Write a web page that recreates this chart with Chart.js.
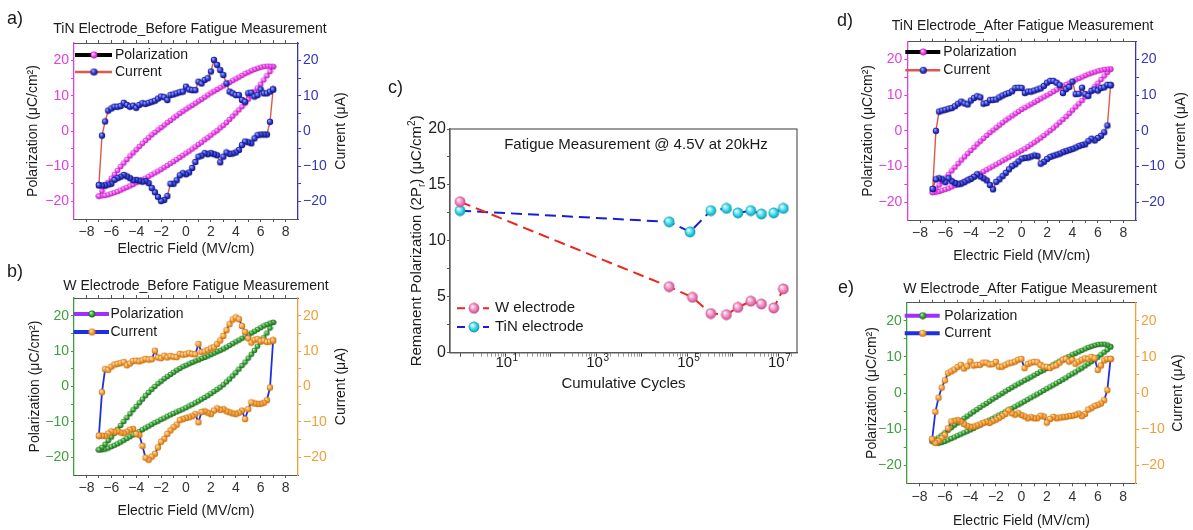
<!DOCTYPE html>
<html><head><meta charset="utf-8">
<script src="https://cdn.jsdelivr.net/npm/chart.js@4.4.1/dist/chart.umd.min.js"></script>
<style>
html,body{margin:0;padding:0;background:#fff;}
body{width:1193px;height:530px;position:relative;overflow:hidden;}
canvas{position:absolute;}
</style></head><body>
<canvas id="cA" width="360" height="265" style="left:0px;top:0px"></canvas>
<canvas id="cB" width="360" height="275" style="left:0px;top:255px"></canvas>
<canvas id="cC" width="430" height="320" style="left:380px;top:75px"></canvas>
<canvas id="cD" width="363" height="265" style="left:830px;top:0px"></canvas>
<canvas id="cE" width="363" height="265" style="left:830px;top:265px"></canvas>
<script>
const FONT = "'Liberation Sans', Arial, Helvetica, sans-serif";

// ---------- Electric-field sweep (MV/cm), shared by panels a, b, d, e ----------
const E_GRID = [-7,-6.75,-6.5,-6.25,-6,-5.75,-5.5,-5.25,-5,-4.75,-4.5,-4.25,-4,-3.75,-3.5,-3.25,-3,-2.75,-2.5,-2.25,-2,-1.75,-1.5,-1.25,-1,-0.75,-0.5,-0.25,0,0.25,0.5,0.75,1,1.25,1.5,1.75,2,2.25,2.5,2.75,3,3.25,3.5,3.75,4,4.25,4.5,4.75,5,5.25,5.5,5.75,6,6.25,6.5,6.75,7];
const E_TICKS = [-8,-6,-4,-2,0,2,4,6,8];
const E_TICK_LABELS = ['\u22128','\u22126','\u22124','\u22122','0','2','4','6','8'];
const E_MINOR = [-7,-5,-3,-1,1,3,5,7];
const Y_TICKS = [-20,-10,0,10,20];
const Y_TICK_LABELS = ['\u221220','\u221210','0','10','20'];
const Y_MINOR = [-15,-5,5,15];

// ---------- Panel a: TiN before fatigue ----------
const A_P_UP = [-18.5,-18.4,-18.3,-18.1,-17.8,-17.5,-17.2,-16.8,-16.4,-16.0,-15.6,-15.2,-14.7,-14.3,-13.8,-13.4,-12.9,-12.4,-11.9,-11.4,-10.9,-10.3,-9.8,-9.2,-8.7,-8.1,-7.5,-6.9,-6.3,-5.7,-5.1,-4.5,-3.8,-3.2,-2.5,-1.9,-1.2,-0.5,0.1,0.9,1.6,2.4,3.3,4.2,5.1,6.0,6.9,7.9,9.0,10.0,11.1,12.2,13.3,14.5,15.7,16.9,18.2];
const A_P_DOWN = [18.3,18.4,18.4,18.3,18.1,17.8,17.5,17.1,16.7,16.3,15.8,15.3,14.8,14.3,13.8,13.3,12.8,12.3,11.8,11.3,10.8,10.2,9.6,9.0,8.5,7.9,7.3,6.8,6.2,5.6,5.0,4.3,3.7,3.0,2.4,1.7,1.0,0.3,-0.4,-1.1,-1.9,-2.7,-3.5,-4.4,-5.3,-6.2,-7.1,-8.1,-9.1,-10.1,-11.2,-12.3,-13.4,-14.6,-15.8,-17.0,-18.5];
const A_I_UP = [-15.4,-1.3,2.7,5.8,6.4,6.9,6.9,7.1,8.0,7.4,6.9,7.2,6.6,7.4,7.9,7.7,8.0,8.3,8.6,9.2,9.8,9.6,8.8,10.2,10.4,10.7,11.0,11.2,12.6,11.8,11.6,11.6,14.0,13.5,14.5,15.0,16.9,20.2,18.8,17.3,15.9,13.5,11.2,10.7,10.2,10.2,8.8,8.3,10.7,10.9,9.8,10.2,11.8,10.7,10.7,11.2,11.8];
const A_I_DOWN = [11.8,2.6,-1.0,-1.0,-1.0,-1.2,-2.1,-3.5,-3.2,-3.0,-4.0,-5.4,-6.1,-6.4,-6.5,-6.1,-7.3,-8.9,-6.9,-6.6,-6.3,-6.6,-6.3,-7.0,-7.3,-8.8,-10.5,-11.8,-12.3,-12.0,-12.6,-14.0,-15.0,-15.0,-18.5,-19.6,-19.9,-18.7,-17.4,-16.2,-14.8,-14.2,-14.4,-14.1,-13.9,-14.0,-13.4,-12.9,-12.5,-13.0,-13.4,-13.9,-15.0,-15.2,-15.4,-15.5,-15.4];

// ---------- Panel b: W before fatigue ----------
const B_P_UP = [-17.9,-17.9,-17.7,-17.4,-17.0,-16.6,-16.2,-15.7,-15.2,-14.7,-14.2,-13.7,-13.2,-12.7,-12.2,-11.7,-11.2,-10.7,-10.2,-9.8,-9.3,-8.9,-8.4,-8.0,-7.6,-7.2,-6.8,-6.4,-6.0,-5.5,-5.1,-4.6,-4.1,-3.6,-3.1,-2.6,-2.0,-1.4,-0.8,-0.2,0.5,1.3,2.1,3.0,3.9,4.9,5.9,6.9,8.0,9.1,10.2,11.4,12.6,13.8,15.1,16.5,18.1];
const B_P_DOWN = [18.1,17.9,17.5,17.1,16.6,16.1,15.6,15.1,14.6,14.1,13.6,13.1,12.6,12.1,11.6,11.1,10.6,10.2,9.8,9.4,9.0,8.6,8.2,7.9,7.5,7.2,6.8,6.4,6.0,5.6,5.1,4.6,4.0,3.4,2.8,2.2,1.5,0.8,0.0,-0.8,-1.7,-2.6,-3.6,-4.6,-5.6,-6.6,-7.7,-8.8,-9.9,-11.0,-12.1,-13.2,-14.3,-15.3,-16.3,-17.2,-17.9];
const B_I_UP = [-13.9,-1.6,4.9,4.7,5.6,6.2,6.4,6.6,6.9,6.0,6.5,7.2,7.3,7.1,7.4,7.8,7.6,7.7,10.1,8.2,8.0,8.7,8.2,8.6,8.4,8.3,9.2,9.0,9.1,9.4,9.2,9.1,12.0,9.7,9.9,10.3,10.8,11.1,12.0,13.0,14.3,15.9,17.6,18.9,19.5,19.0,17.1,15.4,13.6,12.4,13.2,13.4,12.8,13.0,12.6,12.7,13.0];
const B_I_DOWN = [13.0,-0.3,-3.9,-4.6,-4.9,-4.9,-4.8,-4.5,-6.4,-9.2,-6.8,-7.4,-7.8,-7.6,-7.3,-7.0,-6.4,-6.6,-6.2,-6.8,-7.8,-7.4,-7.0,-7.2,-10.1,-7.8,-8.4,-8.7,-8.9,-9.2,-9.5,-10.8,-11.5,-12.4,-13.4,-14.8,-15.6,-17.2,-19.0,-19.8,-20.7,-20.1,-16.8,-13.7,-13.4,-12.0,-12.2,-12.8,-13.2,-13.0,-12.6,-12.9,-12.7,-13.3,-14.0,-13.9,-13.9];

// ---------- Panel d: TiN after fatigue ----------
const D_P_UP = [-17.3,-17.2,-17.0,-16.7,-16.4,-16.1,-15.7,-15.3,-14.9,-14.5,-14.1,-13.7,-13.2,-12.8,-12.3,-11.9,-11.4,-10.9,-10.4,-9.9,-9.4,-8.9,-8.4,-7.9,-7.4,-6.9,-6.5,-6.0,-5.5,-5.0,-4.4,-3.8,-3.2,-2.6,-2.0,-1.3,-0.6,0.1,0.8,1.6,2.4,3.2,4.0,4.9,5.8,6.7,7.6,8.5,9.5,10.4,11.4,12.4,13.4,14.4,15.4,16.4,17.3];
const D_P_DOWN = [17.3,17.3,17.2,17.0,16.8,16.5,16.2,15.9,15.5,15.1,14.7,14.3,13.9,13.4,13.0,12.5,12.0,11.5,11.0,10.5,10.0,9.5,9.0,8.5,8.0,7.5,7.0,6.5,6.0,5.4,4.8,4.2,3.6,3.0,2.3,1.6,0.9,0.2,-0.5,-1.3,-2.1,-2.9,-3.7,-4.6,-5.5,-6.4,-7.3,-8.2,-9.2,-10.2,-11.2,-12.2,-13.2,-14.2,-15.2,-16.3,-17.3];
const D_I_UP = [-16.3,0.0,5.4,5.7,5.9,6.2,6.4,6.9,7.6,8.2,7.7,7.4,8.5,9.2,9.7,9.4,7.6,7.8,8.6,8.7,8.8,9.4,9.9,10.3,10.6,11.1,12.0,12.1,12.0,10.6,11.0,11.0,11.3,11.6,11.9,12.6,13.5,14.0,14.0,13.5,12.8,10.6,11.7,12.3,13.8,10.3,10.4,12.1,10.3,9.8,11.2,11.6,11.3,12.0,12.2,12.9,12.8];
const D_I_DOWN = [12.8,1.5,-0.4,-1.4,-2.0,-2.7,-2.2,-2.9,-3.8,-4.0,-4.3,-4.7,-5.1,-5.4,-5.7,-6.0,-6.4,-6.7,-7.0,-7.3,-7.9,-8.7,-9.2,-7.1,-6.9,-7.2,-7.5,-7.6,-7.8,-8.6,-9.4,-9.9,-10.8,-11.8,-12.7,-13.6,-14.3,-16.4,-15.2,-13.9,-13.3,-12.8,-12.2,-12.9,-13.5,-13.9,-14.4,-14.8,-15.0,-14.6,-14.1,-13.3,-14.4,-13.6,-13.3,-13.6,-16.3];

// ---------- Panel e: W after fatigue ----------
const E_P_UP = [-13.3,-13.7,-13.9,-13.7,-13.4,-13.0,-12.6,-12.2,-11.8,-11.4,-11.0,-10.6,-10.2,-9.8,-9.3,-8.9,-8.4,-8.0,-7.5,-7.1,-6.6,-6.1,-5.7,-5.2,-4.7,-4.3,-3.8,-3.3,-2.8,-2.3,-1.8,-1.3,-0.8,-0.3,0.2,0.7,1.2,1.7,2.2,2.7,3.2,3.7,4.2,4.8,5.3,5.8,6.4,6.9,7.5,8.1,8.7,9.3,9.9,10.6,11.3,12.0,12.8];
const E_P_DOWN = [12.8,13.3,13.5,13.5,13.4,13.2,12.9,12.6,12.2,11.8,11.4,11.0,10.6,10.1,9.7,9.2,8.8,8.3,7.8,7.3,6.8,6.3,5.9,5.4,4.9,4.4,3.9,3.5,3.0,2.5,2.0,1.5,1.0,0.5,-0.1,-0.6,-1.2,-1.7,-2.3,-2.9,-3.4,-4.0,-4.6,-5.2,-5.8,-6.4,-7.0,-7.6,-8.3,-8.9,-9.6,-10.3,-11.0,-11.7,-12.4,-13.0,-13.3];
const E_I_UP = [-12.8,-5.2,-1.3,1.5,3.5,5.5,6.0,6.5,7.2,7.8,6.8,7.4,8.7,7.6,7.8,7.8,8.4,8.4,7.9,8.0,8.6,7.3,7.3,7.8,8.2,8.4,8.7,9.2,9.4,6.9,8.0,8.4,8.6,8.5,7.8,7.3,7.2,6.9,7.4,7.7,8.4,9.2,9.4,8.7,9.2,8.1,8.7,9.2,9.6,9.4,10.0,9.6,6.4,7.6,9.0,9.4,9.4];
const E_I_DOWN = [9.4,0.8,-2.0,-2.9,-3.3,-3.6,-4.2,-4.6,-5.8,-6.4,-5.7,-6.1,-6.3,-6.4,-6.6,-6.7,-6.8,-7.0,-6.6,-7.2,-8.2,-6.5,-6.3,-7.0,-7.0,-6.7,-7.0,-6.5,-6.1,-5.6,-6.0,-5.6,-4.8,-5.8,-6.4,-6.9,-7.4,-7.8,-8.3,-8.0,-8.3,-8.7,-9.0,-9.3,-9.4,-9.1,-8.6,-7.9,-7.5,-7.7,-7.9,-9.8,-11.6,-12.5,-13.3,-13.8,-12.8];

// ---------- Panel c: fatigue ----------
const W_CYCLES = [1, 4e4, 1.3e5, 3.3e5, 7.3e5, 1.3e6, 2.5e6, 4.3e6, 8e6, 1.3e7];
const W_2PR = [13.5, 5.9, 4.95, 3.5, 3.4, 4.05, 4.6, 4.35, 4.0, 5.7];
const TIN_CYCLES = [1, 4e4, 1.15e5, 3.3e5, 7.3e5, 1.3e6, 2.5e6, 4.3e6, 8e6, 1.3e7];
const TIN_2PR = [12.7, 11.7, 10.8, 12.7, 12.9, 12.5, 12.7, 12.4, 12.5, 12.9];
const C_DECADES = [1, 10, 100, 1e3, 1e4, 1e5, 1e6, 1e7];
const C_MAJOR = [10, 1e3, 1e5, 1e7];
const C_MAJOR_EXP = ['1', '3', '5', '7'];
const C_YTICKS = [0, 5, 10, 15, 20];
const C_YMINOR = [2.5, 7.5, 12.5, 17.5];

Chart.defaults.font.family = FONT;

function sphere(r, light, base, dark) {
  const s = Math.ceil(2 * r + 1);
  const c = document.createElement('canvas');
  c.width = s; c.height = s;
  const g = c.getContext('2d');
  const cx = s / 2, cy = s / 2;
  const gr = g.createRadialGradient(cx - r * 0.35, cy - r * 0.4, r * 0.08, cx, cy, r);
  gr.addColorStop(0, light); gr.addColorStop(0.55, base); gr.addColorStop(1, dark);
  g.fillStyle = gr; g.beginPath(); g.arc(cx, cy, r, 0, Math.PI * 2); g.fill();
  return c;
}
const MK = {
  mag: sphere(2.8, '#ffd6ff', '#f24cf2', '#b414b4'),
  blue: sphere(3.2, '#a8b0ff', '#2c3ad8', '#0e0e70'),
  green: sphere(2.8, '#bff2b5', '#3aa83a', '#1a5a1a'),
  orange: sphere(3.2, '#ffe4b8', '#f8a23a', '#c0680e'),
  magL: sphere(3.4, '#ffd6ff', '#f24cf2', '#b414b4'),
  blueL: sphere(3.6, '#a8b0ff', '#2c3ad8', '#0e0e70'),
  greenL: sphere(3.4, '#bff2b5', '#3aa83a', '#1a5a1a'),
  orangeL: sphere(3.6, '#ffe4b8', '#f8a23a', '#c0680e'),
  pink: sphere(5.4, '#fff0f8', '#f48ac2', '#c04c86'),
  cyan: sphere(5.4, '#eaffff', '#3cdcec', '#1692ac')
};

function makeDecor(cfg) {
  return {
    id: 'decor',
    afterDraw(chart) {
      const ctx = chart.ctx, ca = chart.chartArea;
      ctx.save();
      if (cfg.frame) {
        ctx.strokeStyle = cfg.frame; ctx.lineWidth = 1.2;
        ctx.strokeRect(ca.left, ca.top, ca.right - ca.left, ca.bottom - ca.top);
      }
      (cfg.texts || []).forEach(t => {
        ctx.font = t.size + 'px ' + FONT; ctx.fillStyle = t.color || '#1a1a1a';
        ctx.textAlign = t.align || 'left'; ctx.textBaseline = 'middle';
        ctx.fillText(t.text, t.rel ? ca.left + t.x : t.x, t.rel ? ca.top + t.y : t.y);
      });
      if (cfg.rightTitle) {
        ctx.save();
        ctx.translate(cfg.rightTitle.x, (ca.top + ca.bottom) / 2);
        ctx.rotate(-Math.PI / 2);
        ctx.font = '14px ' + FONT; ctx.fillStyle = '#1a1a1a';
        ctx.textAlign = 'center'; ctx.textBaseline = 'middle';
        ctx.fillText(cfg.rightTitle.text, 0, 0);
        ctx.restore();
      }
      if (cfg.legend) {
        const L = cfg.legend;
        L.items.forEach((it, k) => {
          const y = ca.top + L.dy[k];
          ctx.save();
          ctx.strokeStyle = it.color; ctx.lineWidth = it.width; ctx.setLineDash(it.dash || []);
          ctx.beginPath(); ctx.moveTo(ca.left + L.x0, y); ctx.lineTo(ca.left + L.x1, y); ctx.stroke();
          ctx.restore();
          const m = it.marker;
          ctx.drawImage(m, ca.left + L.mx - m.width / 2, y - m.height / 2);
          ctx.font = (L.size || 14) + 'px ' + FONT; ctx.fillStyle = '#1a1a1a';
          ctx.textAlign = 'left'; ctx.textBaseline = 'middle';
          ctx.fillText(it.text, ca.left + L.tx, y);
        });
      }
      if (cfg.extra) cfg.extra(chart, ctx, ca);
      ctx.restore();
    }
  };
}

function loopPoints(up, down) {
  const eDown = E_GRID.slice().reverse();
  return up.map((y, i) => ({ x: E_GRID[i], y })).concat(down.map((y, i) => ({ x: eDown[i], y })));
}
const setTicks = (maj, min) => s => { s.ticks = maj.concat(min).sort((a, b) => a - b).map(v => ({ value: v })); };
const labelOf = (maj, labels) => v => { const i = maj.indexOf(v); return i >= 0 ? labels[i] : ''; };

function makeLoopChart(id, o) {
  const tickFont = { family: FONT, size: 14 };
  return new Chart(document.getElementById(id), {
    type: 'scatter',
    data: { datasets: [
      { label: 'Current', data: loopPoints(o.iUp, o.iDown), yAxisID: 'y2', xAxisID: 'x', showLine: true,
        borderColor: o.iLine, borderWidth: o.iLineW, pointStyle: o.iMarker, pointRadius: 3, pointHoverRadius: 3 },
      { label: 'Polarization', data: loopPoints(o.pUp, o.pDown), yAxisID: 'y', xAxisID: 'x', showLine: true,
        borderColor: o.pLine, borderWidth: 1.1, pointStyle: o.pMarker, pointRadius: 3, pointHoverRadius: 3 }
    ]},
    options: {
      responsive: false, animation: false, devicePixelRatio: 1,
      layout: { padding: 0 },
      events: [],
      plugins: { legend: { display: false }, tooltip: { enabled: false } },
      scales: {
        x: { type: 'linear', position: 'bottom', min: -9, max: 9,
          afterBuildTicks: setTicks(E_TICKS, E_MINOR),
          ticks: { callback: labelOf(E_TICKS, E_TICK_LABELS), autoSkip: false, maxRotation: 0, font: tickFont, color: '#333', padding: 2 },
          grid: { drawOnChartArea: false, tickLength: 3, color: '#555' },
          border: { color: '#555', width: 1 },
          title: { display: true, text: 'Electric Field (MV/cm)', font: tickFont, color: '#1a1a1a', padding: { top: 0, bottom: o.xTitlePad } },
          afterFit: s => { s.height = o.bottomH; } },
        xTop: { type: 'linear', position: 'top', axis: 'x', min: -9, max: 9,
          afterBuildTicks: setTicks(E_TICKS, E_MINOR),
          ticks: { display: false },
          grid: { drawOnChartArea: false, tickLength: 3, color: '#555' },
          border: { color: '#555', width: 1 },
          afterFit: s => { s.height = o.topH; } },
        y: { type: 'linear', position: 'left', min: -25, max: 25,
          afterBuildTicks: setTicks(Y_TICKS, Y_MINOR),
          ticks: { callback: labelOf(Y_TICKS, Y_TICK_LABELS), autoSkip: false, font: tickFont, color: o.leftColor, padding: 2 },
          grid: { drawOnChartArea: false, tickLength: 3, color: o.leftColor },
          border: { color: o.leftColor, width: 1.3 },
          title: { display: true, text: 'Polarization (\u03bcC/cm\u00b2)', font: tickFont, color: '#1a1a1a', padding: { top: o.yTitlePad, bottom: 0 } },
          afterFit: s => { s.width = o.leftW; } },
        y2: { type: 'linear', position: 'right', min: -25, max: 25,
          afterBuildTicks: setTicks(Y_TICKS, Y_MINOR),
          ticks: { callback: labelOf(Y_TICKS, Y_TICK_LABELS), autoSkip: false, font: tickFont, color: o.rightColor, padding: 2 },
          grid: { drawOnChartArea: false, tickLength: 3, color: o.rightColor },
          border: { color: o.rightColor, width: 1.3 },
          afterFit: s => { s.width = o.rightW; } }
      }
    },
    plugins: [makeDecor({
      texts: [
        { text: o.panel, x: o.labelX, y: o.labelY, size: 18 },
        { text: o.title, x: o.titleX, y: o.titleY, size: 14, align: 'center' }
      ],
      rightTitle: { text: 'Current (\u03bcA)', x: o.rightTitleX },
      legend: {
        dy: o.legDy, x0: o.legX0, x1: o.legX1, mx: o.legMx, tx: o.legTx,
        items: [
          { text: 'Polarization', color: o.pLine, width: 4, marker: o.pMarkerL },
          { text: 'Current', color: o.iLine, width: o.iLegW, marker: o.iMarkerL }
        ]
      }
    })]
  });
}

// Panel a
makeLoopChart('cA', {
  pUp: A_P_UP, pDown: A_P_DOWN, iUp: A_I_UP, iDown: A_I_DOWN,
  pLine: '#000000', iLine: '#e0574a', iLineW: 1.4, iLegW: 2.5,
  pMarker: MK.mag, iMarker: MK.blue, pMarkerL: MK.magL, iMarkerL: MK.blueL,
  leftColor: '#e040e0', rightColor: '#3636b8',
  leftW: 74, rightW: 62, topH: 43, bottomH: 46, yTitlePad: 24.6, xTitlePad: 7.6, rightTitleX: 341,
  panel: 'a)', labelX: 7, labelY: 19.5, title: 'TiN Electrode_Before Fatigue Measurement', titleX: 190, titleY: 29,
  legDy: [12, 29], legX0: 1, legX1: 38, legMx: 20, legTx: 41
});
// Panel b
makeLoopChart('cB', {
  pUp: B_P_UP, pDown: B_P_DOWN, iUp: B_I_UP, iDown: B_I_DOWN,
  pLine: '#9b30ff', iLine: '#1f30e0', iLineW: 1.8, iLegW: 4,
  pMarker: MK.green, iMarker: MK.orange, pMarkerL: MK.greenL, iMarkerL: MK.orangeL,
  leftColor: '#3fa03f', rightColor: '#f0a035',
  leftW: 74, rightW: 62, topH: 43, bottomH: 55, yTitlePad: 26.6, xTitlePad: 10.6, rightTitleX: 341,
  panel: 'b)', labelX: 7, labelY: 17, title: 'W Electrode_Before Fatigue Measurement', titleX: 196, titleY: 30.7,
  legDy: [16, 34], legX0: -0.5, legX1: 35, legMx: 18, legTx: 36.5
});
// Panel d
makeLoopChart('cD', {
  pUp: D_P_UP, pDown: D_P_DOWN, iUp: D_I_UP, iDown: D_I_DOWN,
  pLine: '#000000', iLine: '#e0574a', iLineW: 1.4, iLegW: 2.5,
  pMarker: MK.mag, iMarker: MK.blue, pMarkerL: MK.magL, iMarkerL: MK.blueL,
  leftColor: '#e040e0', rightColor: '#3636b8',
  leftW: 77.3, rightW: 57, topH: 41.7, bottomH: 45, yTitlePad: 29.6, xTitlePad: 0, rightTitleX: 351,
  panel: 'd)', labelX: 7, labelY: 21.5, title: 'TiN Electrode_After Fatigue Measurement', titleX: 192.6, titleY: 26,
  legDy: [10.3, 28.6], legX0: -2, legX1: 33, legMx: 16, legTx: 36
});
// Panel e
makeLoopChart('cE', {
  pUp: E_P_UP, pDown: E_P_DOWN, iUp: E_I_UP, iDown: E_I_DOWN,
  pLine: '#9b30ff', iLine: '#1f30e0', iLineW: 1.8, iLegW: 4,
  pMarker: MK.green, iMarker: MK.orange, pMarkerL: MK.greenL, iMarkerL: MK.orangeL,
  leftColor: '#3fa03f', rightColor: '#f0a035',
  leftW: 76.7, rightW: 57, topH: 37.7, bottomH: 46.7, yTitlePad: 33.3, xTitlePad: 0, rightTitleX: 348,
  panel: 'e)', labelX: 8, labelY: 23.5, title: 'W Electrode_After Fatigue Measurement', titleX: 200, titleY: 24,
  legDy: [13, 30.6], legX0: -2, legX1: 33, legMx: 16, legTx: 37.5
});

// Panel c
const C_XTICKS = [];
C_DECADES.forEach(d => { for (let m = 1; m <= 9; m++) { if (d * m <= 2.6e7) C_XTICKS.push(d * m); } });
const isDecade = v => { const l = Math.log10(v); return Math.abs(l - Math.round(l)) < 1e-6; };

function drawRich(ctx, segs, x, y, rot) {
  ctx.save(); ctx.translate(x, y); ctx.rotate(rot);
  let w = 0;
  segs.forEach(s => { ctx.font = s.size + 'px ' + FONT; s.w = ctx.measureText(s.t).width; w += s.w; });
  let cx = -w / 2;
  ctx.textAlign = 'left'; ctx.textBaseline = 'alphabetic'; ctx.fillStyle = '#1a1a1a';
  segs.forEach(s => { ctx.font = s.size + 'px ' + FONT; ctx.fillText(s.t, cx, s.dy); cx += s.w; });
  ctx.restore();
}

new Chart(document.getElementById('cC'), {
  type: 'scatter',
  data: { datasets: [
    { label: 'W electrode', data: W_CYCLES.map((x, i) => ({ x, y: W_2PR[i] })), showLine: true,
      borderColor: '#e8281e', borderWidth: 2, borderDash: [11, 6], pointStyle: MK.pink, pointRadius: 5 },
    { label: 'TiN electrode', data: TIN_CYCLES.map((x, i) => ({ x, y: TIN_2PR[i] })), showLine: true,
      borderColor: '#1c1cd0', borderWidth: 2, borderDash: [11, 6], pointStyle: MK.cyan, pointRadius: 5 }
  ]},
  options: {
    responsive: false, animation: false, devicePixelRatio: 1, events: [],
    layout: { padding: { top: 54, right: 13, left: 0, bottom: 0 } },
    plugins: { legend: { display: false }, tooltip: { enabled: false } },
    scales: {
      x: { type: 'logarithmic', position: 'bottom', min: 0.62, max: 2.6e7,
        afterBuildTicks: s => { s.ticks = C_XTICKS.map(v => ({ value: v })); },
        ticks: { callback: () => '', autoSkip: false, maxRotation: 0 },
        grid: { drawOnChartArea: false, tickLength: 4, tickColor: c => (c.tick && isDecade(c.tick.value)) ? '#444' : '#9a9a9a' },
        border: { color: '#555', width: 1.2 },
        title: { display: true, text: 'Cumulative Cycles', font: { family: FONT, size: 15 }, color: '#1a1a1a', padding: { top: 0, bottom: 2 } },
        afterFit: s => { s.height = 42.3; } },
      y: { type: 'linear', position: 'left', min: 0, max: 20,
        afterBuildTicks: setTicks(C_YTICKS, C_YMINOR),
        ticks: { callback: labelOf(C_YTICKS, C_YTICKS.map(String)), autoSkip: false, font: { family: FONT, size: 16 }, color: '#222', padding: 1 },
        grid: { drawOnChartArea: false, tickLength: 3, color: '#555' },
        border: { color: '#555', width: 1.2 },
        afterFit: s => { s.width = 70; } }
    }
  },
  plugins: [makeDecor({
    frame: '#5a5a5a',
    texts: [
      { text: 'c)', x: 8, y: 13, size: 18 },
      { text: 'Fatigue Measurement @ 4.5V at 20kHz', x: 186, y: 16, rel: true, size: 15, align: 'center' }
    ],
    legend: {
      dy: [179.3, 198], x0: 7, x1: 39, mx: 24, tx: 45, size: 15,
      items: [
        { text: 'W electrode', color: '#e8281e', width: 2, dash: [8, 5], marker: MK.pink },
        { text: 'TiN electrode', color: '#1c1cd0', width: 2, dash: [8, 5], marker: MK.cyan }
      ]
    },
    extra: (chart, ctx, ca) => {
      const sx = chart.scales.x;
      C_MAJOR.forEach((v, i) => {
        const x = sx.getPixelForValue(v);
        ctx.font = '15px ' + FONT; const w1 = ctx.measureText('10').width;
        ctx.font = '10px ' + FONT; const w2 = ctx.measureText(C_MAJOR_EXP[i]).width;
        const x0 = x - (w1 + w2) / 2 + 1;
        ctx.fillStyle = '#1a1a1a'; ctx.textAlign = 'left'; ctx.textBaseline = 'alphabetic';
        ctx.font = '15px ' + FONT; ctx.fillText('10', x0, ca.bottom + 14.5);
        ctx.font = '10px ' + FONT; ctx.fillText(C_MAJOR_EXP[i], x0 + w1 + 0.5, ca.bottom + 8);
      });
      drawRich(ctx, [
        { t: 'Remanent Polarization (2P', size: 15, dy: 5 },
        { t: 'r', size: 10, dy: 8.5 },
        { t: ') (\u03bcC/cm', size: 15, dy: 5 },
        { t: '2', size: 10, dy: -1.5 },
        { t: ')', size: 15, dy: 5 }
      ], 36, (ca.top + ca.bottom) / 2, -Math.PI / 2);
    }
  })]
});
</script>
</body></html>
